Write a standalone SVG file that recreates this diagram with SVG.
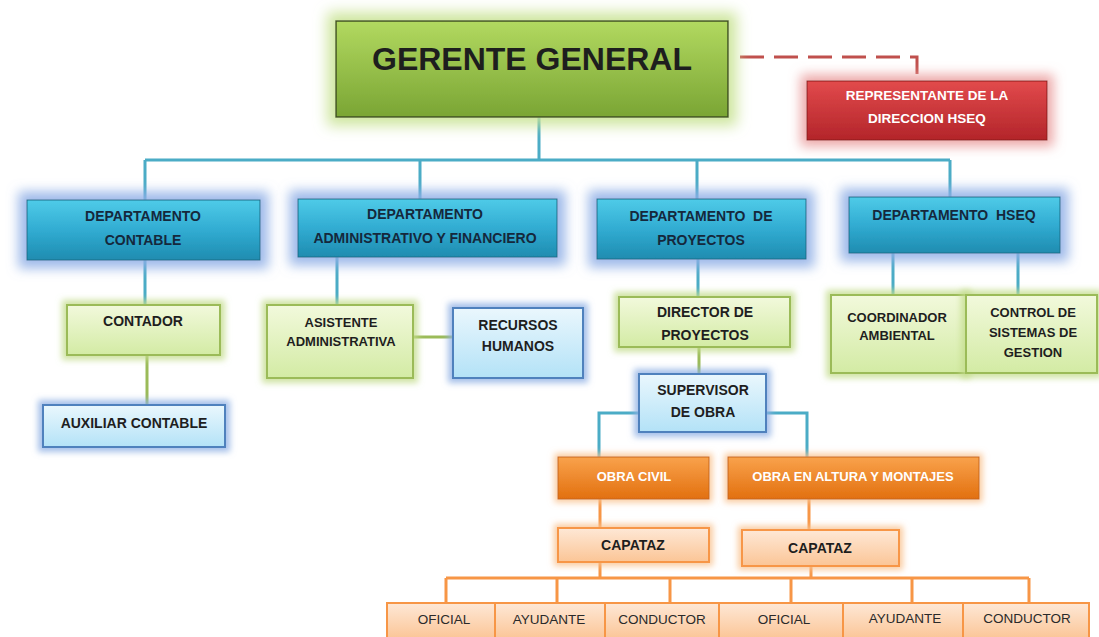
<svg xmlns="http://www.w3.org/2000/svg" width="1099" height="637" viewBox="0 0 1099 637">
<style>
text{font-family:"Liberation Sans",Arial,sans-serif;font-weight:bold;text-anchor:middle;fill:#1e1e1e}
.dept text{fill:#15283c;font-size:14px}
.w{fill:#fff}
.n{font-weight:normal;font-size:13.5px;fill:#2a2a2a}
.cb{fill:none;stroke:#4bacc6;stroke-width:3}
.cg{fill:none;stroke:#9bbb59;stroke-width:3}
.co{fill:none;stroke:#f79646;stroke-width:3}
.cr{fill:none;stroke:#c0504d;stroke-width:3;stroke-dasharray:24 10}
.gg{fill:url(#gGreen);stroke:#3f5020;stroke-width:1.5}
.red{fill:url(#gRed);stroke:#8c1a1a;stroke-width:1}
.bl{fill:url(#gBlue);stroke:#1d6e88;stroke-width:1}
.lg{fill:url(#gLG);stroke:#9bbb59;stroke-width:2}
.lb{fill:url(#gLB);stroke:#4f81bd;stroke-width:2}
.or{fill:url(#gOr);stroke:#c8661a;stroke-width:1}
.lo{fill:url(#gLO);stroke:#f79646;stroke-width:2}
</style>
<defs>
<linearGradient id="gGreen" x1="0" y1="0" x2="0" y2="1"><stop offset="0" stop-color="#b2d960"/><stop offset="1" stop-color="#7aa534"/></linearGradient>
<linearGradient id="gRed" x1="0" y1="0" x2="0" y2="1"><stop offset="0" stop-color="#e24a4c"/><stop offset="1" stop-color="#b3252a"/></linearGradient>
<linearGradient id="gBlue" x1="0" y1="0" x2="0" y2="1"><stop offset="0" stop-color="#4fcbe8"/><stop offset="0.5" stop-color="#31acd2"/><stop offset="1" stop-color="#1f8cb0"/></linearGradient>
<linearGradient id="gLG" x1="0" y1="0" x2="0" y2="1"><stop offset="0" stop-color="#f2f9dc"/><stop offset="1" stop-color="#d3eba4"/></linearGradient>
<linearGradient id="gLB" x1="0" y1="0" x2="0" y2="1"><stop offset="0" stop-color="#eaf7fd"/><stop offset="1" stop-color="#b3e2f7"/></linearGradient>
<linearGradient id="gOr" x1="0" y1="0" x2="0" y2="1"><stop offset="0" stop-color="#f9a24c"/><stop offset="1" stop-color="#e2700f"/></linearGradient>
<linearGradient id="gLO" x1="0" y1="0" x2="0" y2="1"><stop offset="0" stop-color="#fee8d6"/><stop offset="1" stop-color="#fbc596"/></linearGradient>
<filter id="fGreen" x="-20%" y="-50%" width="140%" height="200%"><feMorphology in="SourceAlpha" operator="dilate" radius="8" result="d"/><feGaussianBlur in="d" stdDeviation="7" result="b"/><feFlood flood-color="#c9e394" flood-opacity="0.9"/><feComposite in2="b" operator="in" result="g"/><feMerge><feMergeNode in="g"/><feMergeNode in="SourceGraphic"/></feMerge></filter>
<filter id="fRed" x="-20%" y="-50%" width="140%" height="200%"><feMorphology in="SourceAlpha" operator="dilate" radius="6" result="d"/><feGaussianBlur in="d" stdDeviation="6" result="b"/><feFlood flood-color="#eba0a0" flood-opacity="0.9"/><feComposite in2="b" operator="in" result="g"/><feMerge><feMergeNode in="g"/><feMergeNode in="SourceGraphic"/></feMerge></filter>
<filter id="fBlue" x="-20%" y="-50%" width="140%" height="200%"><feMorphology in="SourceAlpha" operator="dilate" radius="8" result="d"/><feGaussianBlur in="d" stdDeviation="6" result="b"/><feFlood flood-color="#8eaee6" flood-opacity="0.85"/><feComposite in2="b" operator="in" result="g"/><feMerge><feMergeNode in="g"/><feMergeNode in="SourceGraphic"/></feMerge></filter>
<filter id="fLG" x="-20%" y="-40%" width="140%" height="180%"><feMorphology in="SourceAlpha" operator="dilate" radius="4" result="d"/><feGaussianBlur in="d" stdDeviation="3" result="b"/><feFlood flood-color="#c3dc8c" flood-opacity="0.8"/><feComposite in2="b" operator="in" result="g"/><feMerge><feMergeNode in="g"/><feMergeNode in="SourceGraphic"/></feMerge></filter>
<filter id="fLB" x="-20%" y="-40%" width="140%" height="180%"><feMorphology in="SourceAlpha" operator="dilate" radius="4" result="d"/><feGaussianBlur in="d" stdDeviation="3" result="b"/><feFlood flood-color="#8fb0e4" flood-opacity="0.8"/><feComposite in2="b" operator="in" result="g"/><feMerge><feMergeNode in="g"/><feMergeNode in="SourceGraphic"/></feMerge></filter>
<filter id="fOr" x="-20%" y="-40%" width="140%" height="180%"><feMorphology in="SourceAlpha" operator="dilate" radius="3" result="d"/><feGaussianBlur in="d" stdDeviation="3" result="b"/><feFlood flood-color="#f9c28f" flood-opacity="0.85"/><feComposite in2="b" operator="in" result="g"/><feMerge><feMergeNode in="g"/><feMergeNode in="SourceGraphic"/></feMerge></filter>
</defs>
<rect width="1099" height="637" fill="#fff"/>
<g id="connectors">
<path class="cr" d="M740,57 H917 V81"/>
<path class="cb" d="M539,117 V160 M145,160 H950 M145,160 V200 M420,160 V199 M697,160 V199 M950,160 V197"/>
<path class="cb" d="M145,260 V305 M337,257 V305 M698,259 V297 M893,253 V295 M1018,253 V295"/>
<path class="cg" d="M147,355 V405 M413,337 H453 M699,347 V374"/>
<path class="cb" d="M639,413 H599 V457 M766,413 H807 V457"/>
<path class="co" d="M600,499 V528 M809,499 V530 M600,562 V578 M811,566 V578 M446,578 H1029 M446,578 V603 M557,578 V603 M670,578 V603 M791,578 V603 M912,578 V603 M1029,578 V603"/>
</g>
<g id="gerente"><rect class="gg" filter="url(#fGreen)" x="336" y="21" width="392" height="96"/><text x="532" y="70" font-size="32" fill="#111">GERENTE GENERAL</text></g>
<g id="representante"><rect class="red" filter="url(#fRed)" x="807" y="81" width="240" height="59"/><text class="w" x="927" y="100" font-size="13.5">REPRESENTANTE DE LA</text><text class="w" x="927" y="123" font-size="13.5">DIRECCION HSEQ</text></g>
<g id="dep-contable" class="dept"><rect class="bl" filter="url(#fBlue)" x="27" y="200" width="233" height="60"/><text x="143" y="221">DEPARTAMENTO</text><text x="143" y="245">CONTABLE</text></g>
<g id="dep-admin" class="dept"><rect class="bl" filter="url(#fBlue)" x="298" y="199" width="259" height="58"/><text x="425" y="219">DEPARTAMENTO</text><text x="425" y="243" font-size="13.5">ADMINISTRATIVO Y FINANCIERO</text></g>
<g id="dep-proyectos" class="dept"><rect class="bl" filter="url(#fBlue)" x="597" y="199" width="209" height="60"/><text x="701" y="221" xml:space="preserve">DEPARTAMENTO  DE</text><text x="701" y="245">PROYECTOS</text></g>
<g id="dep-hseq" class="dept"><rect class="bl" filter="url(#fBlue)" x="849" y="197" width="211" height="56"/><text x="954" y="220" xml:space="preserve">DEPARTAMENTO  HSEQ</text></g>
<g id="contador"><rect class="lg" filter="url(#fLG)" x="67" y="305" width="153" height="50"/><text x="143" y="326" font-size="14">CONTADOR</text></g>
<g id="auxiliar"><rect class="lb" filter="url(#fLB)" x="43" y="405" width="182" height="42"/><text x="134" y="428" font-size="14">AUXILIAR CONTABLE</text></g>
<g id="asistente"><rect class="lg" filter="url(#fLG)" x="267" y="305" width="146" height="73"/><text x="341" y="327" font-size="13">ASISTENTE</text><text x="341" y="346" font-size="13">ADMINISTRATIVA</text></g>
<g id="recursos"><rect class="lb" filter="url(#fLB)" x="453" y="308" width="130" height="70"/><text x="518" y="330" font-size="14">RECURSOS</text><text x="518" y="351" font-size="14">HUMANOS</text></g>
<g id="director"><rect class="lg" filter="url(#fLG)" x="619" y="297" width="171" height="50"/><text x="705" y="317" font-size="14">DIRECTOR DE</text><text x="705" y="340" font-size="14">PROYECTOS</text></g>
<g id="supervisor"><rect class="lb" filter="url(#fLB)" x="639" y="374" width="127" height="58"/><text x="703" y="395" font-size="14">SUPERVISOR</text><text x="703" y="417" font-size="14">DE OBRA</text></g>
<g id="coordinador"><rect class="lg" filter="url(#fLG)" x="831" y="295" width="135" height="78"/><text x="897" y="322" font-size="13">COORDINADOR</text><text x="897" y="340" font-size="13">AMBIENTAL</text></g>
<g id="control"><rect class="lg" filter="url(#fLG)" x="966" y="295" width="131" height="78"/><text x="1033" y="317" font-size="13">CONTROL DE</text><text x="1033" y="337" font-size="13">SISTEMAS DE</text><text x="1033" y="357" font-size="13">GESTION</text></g>
<g id="obra-civil"><rect class="or" filter="url(#fOr)" x="558" y="457" width="151" height="42"/><text class="w" x="634" y="481" font-size="13">OBRA CIVIL</text></g>
<g id="obra-altura"><rect class="or" filter="url(#fOr)" x="728" y="457" width="251" height="42"/><text class="w" x="853" y="481" font-size="13">OBRA EN ALTURA Y MONTAJES</text></g>
<g id="capataz-1"><rect class="lo" filter="url(#fOr)" x="558" y="528" width="151" height="34"/><text x="633" y="550" font-size="14">CAPATAZ</text></g>
<g id="capataz-2"><rect class="lo" filter="url(#fOr)" x="742" y="530" width="157" height="36"/><text x="820" y="553" font-size="14">CAPATAZ</text></g>
<g id="oficial-1"><rect class="lo" x="387" y="603" width="108" height="36"/><text class="n" x="444" y="624">OFICIAL</text></g>
<g id="ayudante-1"><rect class="lo" x="495" y="603" width="110" height="36"/><text class="n" x="549" y="624">AYUDANTE</text></g>
<g id="conductor-1"><rect class="lo" x="605" y="603" width="114" height="36"/><text class="n" x="662" y="624">CONDUCTOR</text></g>
<g id="oficial-2"><rect class="lo" x="719" y="603" width="124" height="36"/><text class="n" x="784" y="624">OFICIAL</text></g>
<g id="ayudante-2"><rect class="lo" x="843" y="603" width="120" height="36"/><text class="n" x="905" y="623">AYUDANTE</text></g>
<g id="conductor-2"><rect class="lo" x="963" y="603" width="126" height="36"/><text class="n" x="1027" y="623">CONDUCTOR</text></g>
</svg>
